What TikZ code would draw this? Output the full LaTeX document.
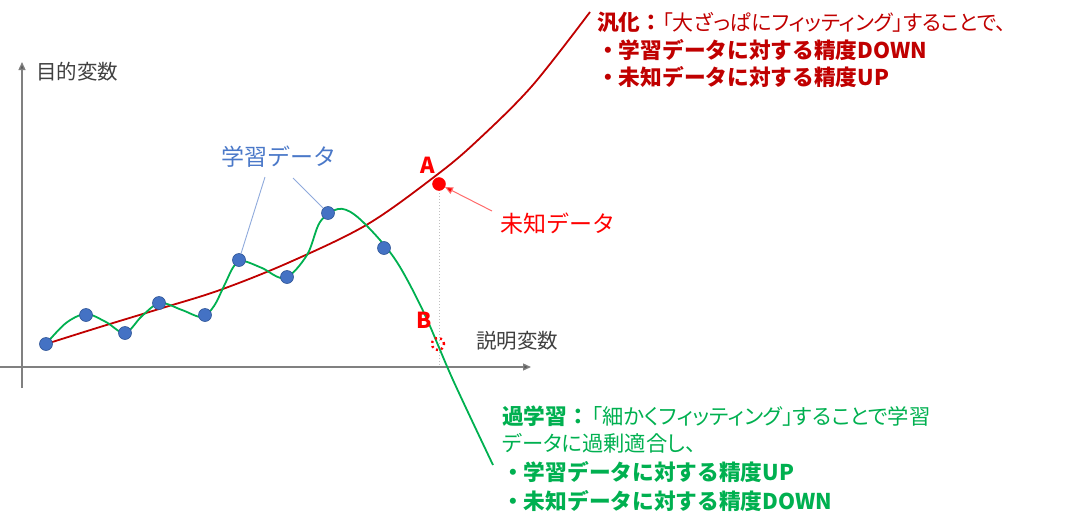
\documentclass[tikz,border=0pt]{standalone}
\usepackage{fontspec}
\setmainfont{Noto Sans CJK JP}
\newfontfamily\jpp{Noto Sans CJK JP}[RawFeature=+palt]
\usetikzlibrary{arrows.meta}
\definecolor{rtext}{HTML}{C00000}
\definecolor{gtext}{HTML}{00B050}
\definecolor{rcurve}{HTML}{C00000}
\definecolor{gcurve}{HTML}{00B050}
\definecolor{brightred}{HTML}{FF0000}
\definecolor{arrred}{HTML}{FF6B6B}
\definecolor{axisgray}{HTML}{808080}
\definecolor{axistip}{HTML}{595959}
\definecolor{lblgray}{HTML}{404040}
\definecolor{lblblue}{HTML}{4A78C8}
\definecolor{linkblue}{HTML}{8FAADC}
\definecolor{dotfill}{HTML}{4472C4}
\definecolor{dotedge}{HTML}{2F5597}
\definecolor{vgray}{HTML}{BFBFBF}
\tikzset{
  axis/.style={draw=axisgray, line width=1.3pt, -{Triangle[length=8pt,width=7pt,fill=axistip]}},
  axlbl/.style={anchor=west, inner sep=0pt, text=lblgray, font=\fontsize{20.5}{20.5}\selectfont},
  datadot/.style={circle, fill=dotfill, draw=dotedge, line width=0.6pt, minimum size=13pt, inner sep=0pt},
  curvered/.style={draw=rcurve, line width=1.8pt},
  curvegreen/.style={draw=gcurve, line width=1.8pt},
  linkline/.style={draw=linkblue, line width=0.9pt},
  blockline/.style={anchor=west, inner sep=0pt, font=\fontsize{21.7}{21.7}\selectfont},
  ptlabel/.style={inner sep=0pt, text=brightred, font=\fontsize{22}{22}\selectfont\bfseries},
}
\begin{document}
\begin{tikzpicture}[x=1pt,y=-1pt]
\useasboundingbox (0,0) rectangle (1078,530);

% axes
\coordinate (yb) at (22,388);
\coordinate (yt) at (22,62);
\coordinate (xl) at (0,367);
\coordinate (xr) at (531,367);
\draw[axis] (yb) -- (yt);
\draw[axis] (xl) -- (xr);
\node[axlbl] (ylab) at (36,72) {目的変数};
\node[axlbl] (xlab) at (476,341) {説明変数};

% dotted vertical from A
\coordinate (xa) at (439,367);
\coordinate (apos) at (439,184);
\draw[vgray, line width=1pt, dotted] (apos) -- (xa);

% curves
\draw[curvered] plot[smooth, tension=0.55] coordinates {
 (46,344) (100,327) (159,309) (220,290) (290,262) (368,224) (438,174) (478,140) (532,86) (590,12)};
\draw[curvegreen] plot[smooth, tension=0.55] coordinates {
 (46,344) (66,323) (86,314) (106,322) (125,333) (142,316) (160,303) (182,310) (202,317)
 (214,306) (224,286) (234,266) (243,261) (262,268) (285,278) (307,255) (320,222) (338,209)
 (355,215) (380,240) (400,267) (425,315) (453,380) (493,465)};

% data points
\node[datadot] (d1) at (46,344) {};
\node[datadot] (d2) at (86,315) {};
\node[datadot] (d3) at (125,333) {};
\node[datadot] (d4) at (159,303) {};
\node[datadot] (d5) at (205,315) {};
\node[datadot] (d6) at (239,260) {};
\node[datadot] (d7) at (287,277) {};
\node[datadot] (d8) at (328,213) {};
\node[datadot] (d9) at (384,248) {};

% training data label
\node[inner sep=0pt, text=lblblue, font=\fontsize{23}{23}\selectfont] (tlab) at (279,157) {学習データ};
\coordinate (t1) at (265,177);
\coordinate (t2) at (293,178);
\draw[linkline] (t1) -- (d6);
\draw[linkline] (t2) -- (d8);

% unknown data A
\node[circle, fill=brightred, draw=brightred, minimum size=13pt, inner sep=0pt] (adot) at (apos) {};
\node[ptlabel] (alab) at (428,165) {A};
\node[anchor=west, inner sep=0pt, text=brightred, font=\fontsize{23}{23}\selectfont] (mk) at (500,224) {未知データ};
\coordinate (mkarr) at (492,211);
\draw[arrred, line width=1pt, -{Triangle[length=8pt,width=7pt,fill=brightred]}] (mkarr) -- (adot);

% B
\node[circle, draw=brightred, line width=2.4pt, dash pattern=on 2pt off 3.2pt, minimum size=12pt, inner sep=0pt] (bcirc) at (438,344) {};
\node[ptlabel] (blab) at (424,320) {B};

% top (red) text block
\node[blockline, text=rtext] (r1) at (597,22) {{\bfseries 汎化：}{\jpp\fontsize{21}{21}\selectfont 「大ざっぱにフィッティング」することで、}};
\node[blockline, text=rtext] (r2) at (597,50) {\bfseries ・学習データに対する精度DOWN};
\node[blockline, text=rtext] (r3) at (597,77) {\bfseries ・未知データに対する精度UP};

% bottom (green) text block
\node[blockline, text=gtext] (g1) at (502,416) {{\bfseries 過学習：}\hspace{3pt}{\jpp\fontsize{21.3}{21.3}\selectfont 「細かくフィッティング」することで学習}};
\node[blockline, text=gtext] (g2) at (502,443) {{\jpp\fontsize{21.3}{21.3}\selectfont データに過剰適合し、}};
\node[blockline, text=gtext] (g3) at (502,472) {\bfseries ・学習データに対する精度UP};
\node[blockline, text=gtext] (g4) at (502,501) {\bfseries ・未知データに対する精度DOWN};
\end{tikzpicture}
\end{document}
